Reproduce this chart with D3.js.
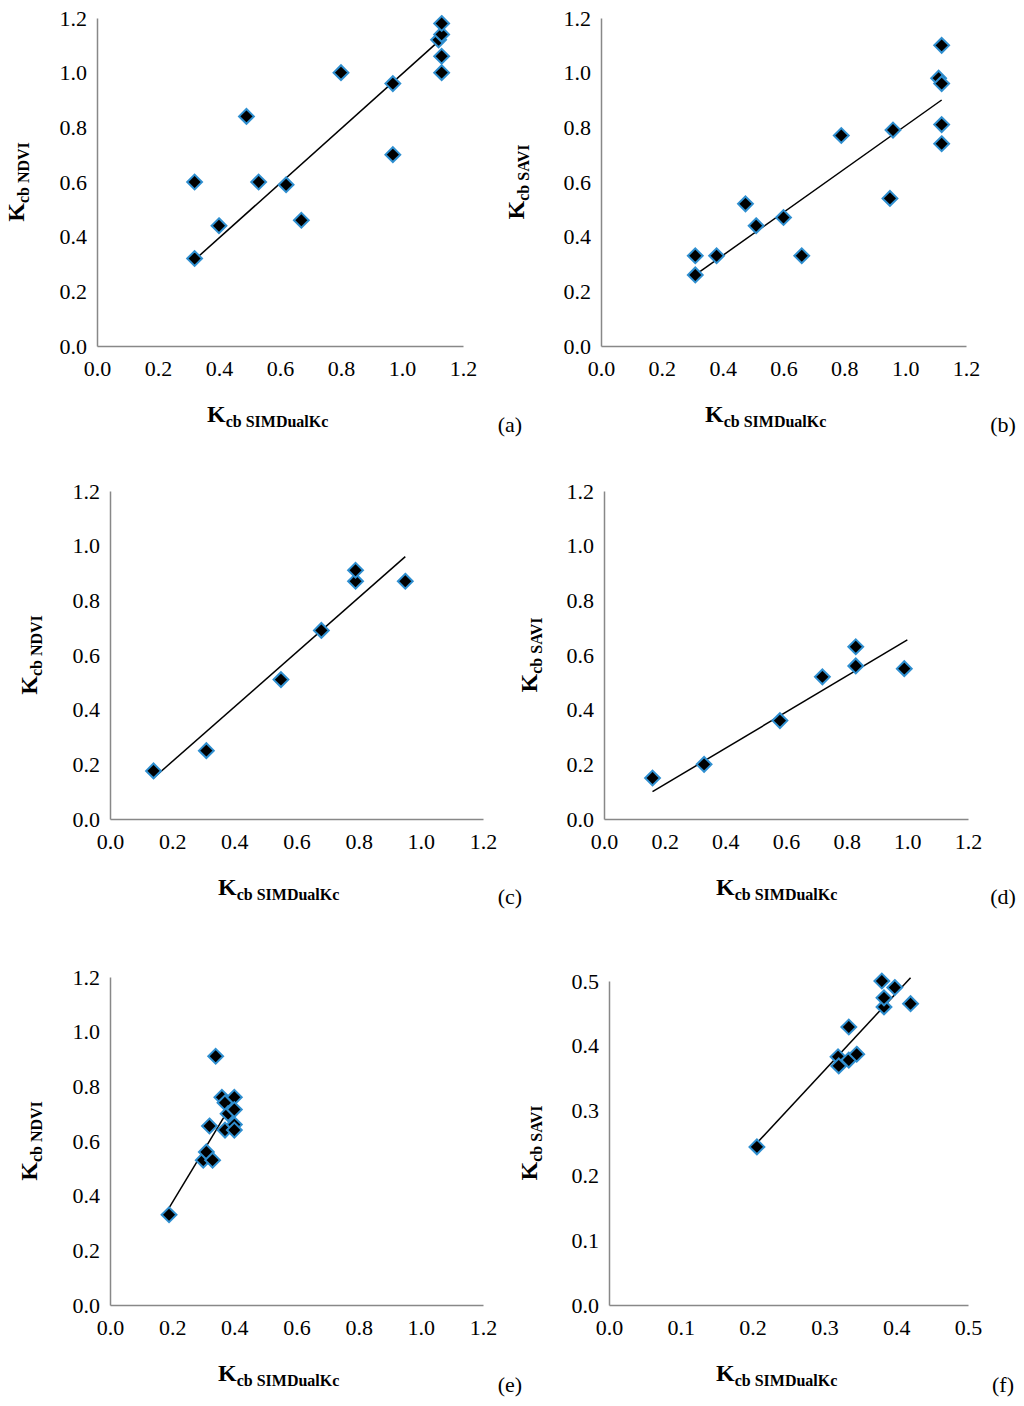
<!DOCTYPE html>
<html><head><meta charset="utf-8">
<script src="https://cdn.jsdelivr.net/npm/d3@7"></script>
<style>body{margin:0;background:#fff}</style></head>
<body><svg id="c" width="1024" height="1406"></svg>
<script>
const xA=[0.32,0.32,0.40,0.49,0.53,0.62,0.67,0.80,0.97,0.97,1.12,1.13,1.13,1.13,1.13];
const yA=[0.32,0.60,0.44,0.84,0.60,0.59,0.46,1.00,0.70,0.96,1.12,1.14,1.18,1.06,1.00];
const xB=[0.31,0.31,0.38,0.475,0.51,0.60,0.66,0.79,0.95,0.96,1.11,1.12,1.12,1.12,1.12];
const yB=[0.26,0.33,0.33,0.52,0.44,0.47,0.33,0.77,0.54,0.79,0.98,1.10,0.96,0.81,0.74];
const xC=[0.14,0.31,0.55,0.68,0.79,0.79,0.95];
const yC=[0.176,0.25,0.51,0.69,0.87,0.91,0.87];
const xD=[0.16,0.33,0.58,0.72,0.83,0.83,0.99];
const yD=[0.15,0.20,0.36,0.52,0.56,0.63,0.55];
const xE=[0.19,0.30,0.31,0.33,0.32,0.34,0.36,0.37,0.37,0.38,0.40,0.40,0.40,0.40];
const yE=[0.33,0.53,0.56,0.53,0.655,0.91,0.76,0.74,0.64,0.70,0.76,0.715,0.66,0.64];
const xF=[0.206,0.319,0.32,0.334,0.345,0.334,0.38,0.383,0.383,0.398,0.42];
const yF=[0.244,0.383,0.369,0.378,0.387,0.429,0.50,0.46,0.474,0.49,0.465];
const lineA=[[0.325,0.32],[1.125,1.12]], lineB=[[0.31,0.26],[1.12,0.90]];
const lineC=[[0.14,0.15],[0.95,0.96]], lineD=[[0.16,0.10],[1.0,0.655]];
const lineE=[[0.19,0.355],[0.405,0.76]], lineF=[[0.206,0.25],[0.42,0.505]];
const ticks12=[0,0.2,0.4,0.6,0.8,1.0,1.2], ticks05=[0,0.1,0.2,0.3,0.4,0.5];
const labels=["(a)","(b)","(c)","(d)","(e)","(f)"];
const yTitles=["NDVI","SAVI","NDVI","SAVI","NDVI","SAVI"];

const panels=[
 {x:xA,y:yA,l:lineA,x0:97,x1:463,y0:346,y1:18,xt:ticks12,yt:ticks12,lab:[510,432],yl:24,xl:[207,422]},
 {x:xB,y:yB,l:lineB,x0:601,x1:966,y0:346,y1:18,xt:ticks12,yt:ticks12,lab:[1003,432],yl:524,xl:[705,422]},
 {x:xC,y:yC,l:lineC,x0:110,x1:483,y0:819,y1:491,xt:ticks12,yt:ticks12,lab:[510,904],yl:37,xl:[218,895]},
 {x:xD,y:yD,l:lineD,x0:604,x1:968,y0:819,y1:491,xt:ticks12,yt:ticks12,lab:[1003,904],yl:537,xl:[716,895]},
 {x:xE,y:yE,l:lineE,x0:110,x1:483,y0:1305,y1:977,xt:ticks12,yt:ticks12,lab:[510,1392],yl:37,xl:[218,1381]},
 {x:xF,y:yF,l:lineF,x0:609,x1:968,y0:1305,y1:981,xt:ticks05,yt:ticks05,lab:[1003,1392],yl:537,xl:[716,1381]}
];
const svg=d3.select("#c"), F="'Liberation Serif', 'Times New Roman', serif";
panels.forEach((p,i)=>{
 const mx=d3.max(p.xt);
 const sx=d3.scaleLinear().domain([0,mx]).range([p.x0,p.x1]);
 const sy=d3.scaleLinear().domain([0,mx]).range([p.y0,p.y1]);
 const g=svg.append("g");
 g.append("g").attr("transform",`translate(0,${p.y0})`).call(d3.axisBottom(sx).tickValues(p.xt).tickSize(0).tickPadding(14).tickFormat(d3.format(".1f")))
  .call(a=>{a.select(".domain").attr("stroke","#888").attr("stroke-width",1.5);a.selectAll("text").attr("font-family",F).attr("font-size",22).attr("fill","#000");});
 g.append("g").attr("transform",`translate(${p.x0},0)`).call(d3.axisLeft(sy).tickValues(p.yt).tickSize(0).tickPadding(10).tickFormat(d3.format(".1f")))
  .call(a=>{a.select(".domain").attr("stroke","#888").attr("stroke-width",1.5);a.selectAll("text").attr("font-family",F).attr("font-size",22).attr("fill","#000");});
 g.append("line").attr("x1",sx(p.l[0][0])).attr("y1",sy(p.l[0][1])).attr("x2",sx(p.l[1][0])).attr("y2",sy(p.l[1][1])).attr("stroke","#000").attr("stroke-width",1.5);
 const sym=d3.symbol().type(d3.symbolDiamond2).size(140);
 g.selectAll("path.pt").data(p.x.map((v,j)=>[v,p.y[j]])).join("path").attr("class","pt")
  .attr("transform",d=>`translate(${sx(d[0])},${sy(d[1])})`).attr("d",sym).attr("fill","#000").attr("stroke","#2f8fd0").attr("stroke-width",2);
 const xt=g.append("text").attr("x",p.xl[0]).attr("y",p.xl[1]).attr("font-family",F).attr("font-weight","bold").attr("font-size",24);
 xt.append("tspan").text("K");
 xt.append("tspan").attr("font-size",16).attr("dy",5).text("cb SIMDualKc");
 const cy=(p.y0+p.y1)/2;
 const yt=g.append("text").attr("transform",`translate(${p.yl},${cy}) rotate(-90)`).attr("text-anchor","middle").attr("font-family",F).attr("font-weight","bold").attr("font-size",24);
 yt.append("tspan").text("K");
 yt.append("tspan").attr("font-size",16).attr("dy",5).text("cb "+yTitles[i]);
 g.append("text").attr("x",p.lab[0]).attr("y",p.lab[1]).attr("text-anchor","middle").attr("font-family",F).attr("font-size",22).text(labels[i]);
});
</script></body></html>
